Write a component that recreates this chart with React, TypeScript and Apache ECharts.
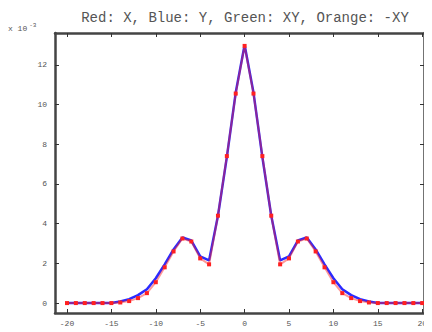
import React, { useEffect, useRef } from "react";
import * as echarts from "echarts";

const xs = [-20,-19,-18,-17,-16,-15,-14,-13,-12,-11,-10,-9,-8,-7,-6,-5,-4,-3,-2,-1,0,1,2,3,4,5,6,7,8,9,10,11,12,13,14,15,16,17,18,19,20];
const redX = [0,0,0,0,0,0,0.03,0.1,0.25,0.5,1.05,1.8,2.6,3.25,3.1,2.25,1.95,4.4,7.4,10.55,12.95,10.55,7.4,4.4,1.95,2.25,3.1,3.25,2.6,1.8,1.05,0.5,0.25,0.1,0.03,0,0,0,0,0,0];
const blueY = [0,0,0,0,0,0,0.08,0.2,0.4,0.7,1.25,1.95,2.7,3.3,3.15,2.35,2.15,4.4,7.35,10.6,13.0,10.6,7.35,4.4,2.15,2.35,3.15,3.3,2.7,1.95,1.25,0.7,0.4,0.2,0.08,0,0,0,0,0,0];
const xTicks = [-20,-15,-10,-5,0,5,10,15,20];
const yTicks = [0,2,4,6,8,10,12];

const pairs = (ys: number[]) => xs.map((x, i) => [x, ys[i]]);

export default function App() {
  const ref = useRef<HTMLDivElement>(null);
  useEffect(() => {
    const chart = echarts.init(ref.current!, null, { renderer: "svg" });
    const font = "Liberation Mono";
    const lblColor = "#555";
    const axisLine = { show: true, onZero: false, lineStyle: { color: "#444", width: 2.5 } };
    const tick = (vals: number[]) => ({ show: true, inside: true, length: 4, customValues: vals, lineStyle: { color: "#333", width: 1 } });
    chart.setOption({
      animation: false,
      backgroundColor: "#fff",
      graphic: [
        {
          type: "text", x: 245, y: 11,
          style: {
            text: "Red: X, Blue: Y, Green: XY, Orange: -XY",
            fontFamily: font, fontSize: 14, fill: "#555", align: "center",
          },
        },
        {
          type: "text", x: 8, y: 22,
          style: {
            text: "{a|x 10}{b|-3}",
            rich: {
              a: { fontFamily: font, fontSize: 8, fill: "#555" },
              b: { fontFamily: font, fontSize: 6, fill: "#555", verticalAlign: "top", padding: [0, 0, 6, 2] },
            },
          },
        },
      ],
      grid: { left: 55, right: 8, top: 33, bottom: 19 },
      xAxis: [
        { type: "value", min: -21.35, max: 20.2, position: "bottom", axisLine, splitLine: { show: false },
          axisTick: tick(xTicks),
          axisLabel: { customValues: xTicks, fontFamily: font, fontSize: 8, color: lblColor, margin: 6 } },
        { type: "value", min: -21.35, max: 20.2, position: "top", axisLine, splitLine: { show: false },
          axisTick: tick(xTicks), axisLabel: { show: false } },
      ],
      yAxis: [
        { type: "value", min: -0.5, max: 13.6, position: "left", axisLine, splitLine: { show: false },
          axisTick: tick(yTicks),
          axisLabel: { customValues: yTicks, fontFamily: font, fontSize: 8, color: lblColor, margin: 8 } },
        { type: "value", min: -0.5, max: 13.6, position: "right", axisLine, splitLine: { show: false },
          axisTick: tick(yTicks), axisLabel: { show: false } },
      ],
      series: [
        { name: "Y", type: "line", data: pairs(blueY), showSymbol: false, lineStyle: { color: "#2a2aff", width: 2.5 }, z: 2 },
        { name: "X", type: "line", data: pairs(redX), symbol: "rect", symbolSize: 4, showSymbol: true,
          itemStyle: { color: "#ff2020" }, lineStyle: { color: "rgba(255,30,30,0.45)", width: 2 }, z: 3 },
      ],
    });
    return () => chart.dispose();
  }, []);
  return <div ref={ref} style={{ width: 432, height: 332, marginTop: -8, marginLeft: -8 }} />;
}
